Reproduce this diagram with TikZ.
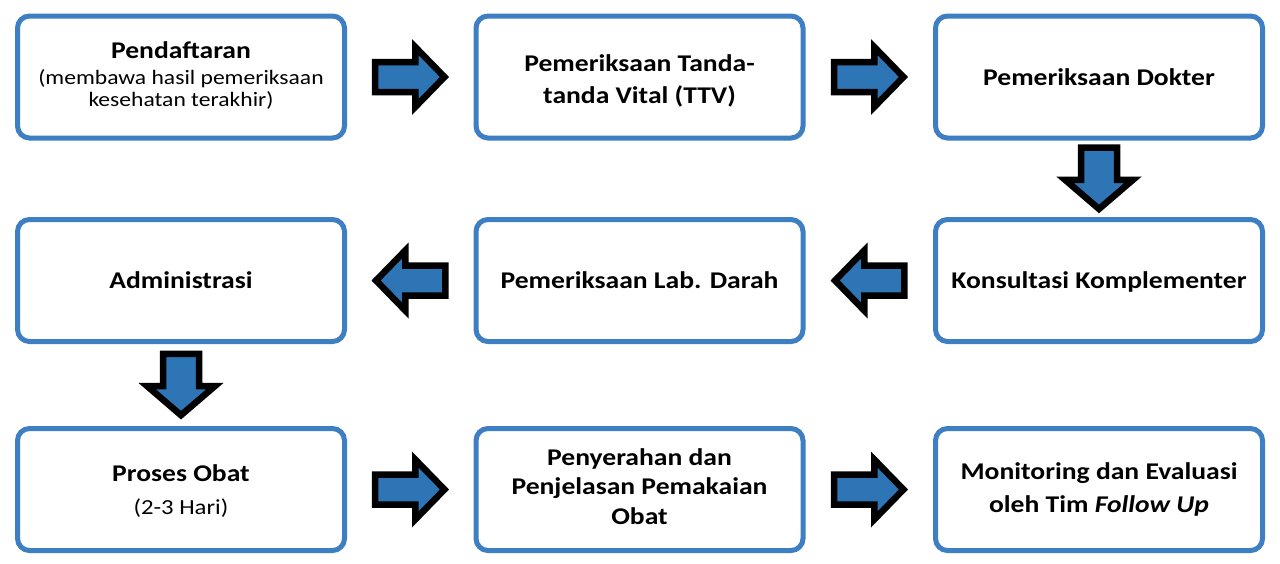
\documentclass[tikz,border=0pt]{standalone}
\usepackage{fontspec}
\setmainfont{Carlito}[FakeStretch=1.15]
\usetikzlibrary{calc}
\definecolor{boxblue}{RGB}{62,126,194}
\definecolor{arrowblue}{RGB}{46,117,182}
\tikzset{
  stepbox/.style={draw=boxblue, line width=5pt, rounded corners=12pt, fill=white,
    minimum width=327pt, minimum height=122pt, inner sep=0pt},
  bline/.style={anchor=base, inner sep=0pt, font=\fontsize{24}{24}\selectfont\bfseries},
  rline/.style={anchor=base, inner sep=0pt, font=\fontsize{20.5}{20.5}\selectfont},
  blockarrow/.style={draw=black, line width=6.5pt, fill=arrowblue, line join=miter},
}
\newcommand{\hshape}{(-35.2,-15) -- (5,-15) -- (5,-30) -- (34.2,0) -- (5,30) -- (5,15) -- (-35.2,15) -- cycle}
\newcommand{\vshape}{(-31.2,-18) -- (1,-18) -- (1,-34) -- (30.2,0) -- (1,34) -- (1,18) -- (-31.2,18) -- cycle}
\begin{document}
\begin{tikzpicture}[x=1pt,y=-1pt]
\useasboundingbox[fill=white] (0,0) rectangle (1280,563);
% boxes
\node[stepbox] (b1) at (181,77) {};
\node[stepbox] (b2) at (639.5,77) {};
\node[stepbox] (b3) at (1099,77) {};
\node[stepbox] (b4) at (1099,280.5) {};
\node[stepbox] (b5) at (639.5,280.5) {};
\node[stepbox] (b6) at (181,280.5) {};
\node[stepbox] (b7) at (181,489.5) {};
\node[stepbox] (b8) at (639.5,489.5) {};
\node[stepbox] (b9) at (1099,489.5) {};
% texts
\node[bline] (t1a) at (181,58.5) {Pendaftaran};
\node[rline] (t1b) at (181,84) {(membawa hasil pemeriksaan};
\node[rline] (t1c) at (181,106) {kesehatan terakhir)};
\node[bline] (t2a) at (639.5,71.5) {Pemeriksaan Tanda-};
\node[bline] (t2b) at (639.5,103) {tanda Vital (TTV)};
\node[bline] (t3a) at (1099,85) {Pemeriksaan Dokter};
\node[bline] (t4a) at (1099,288.5) {Konsultasi Komplementer};
\node[bline] (t5a) at (639.5,288.5) {Pemeriksaan Lab. Darah};
\node[bline] (t6a) at (181,288.5) {Administrasi};
\node[bline] (t7a) at (181,481.5) {Proses Obat};
\node[rline, font=\fontsize{21.5}{21.5}\selectfont] (t7b) at (181,514) {(2-3 Hari)};
\node[bline] (t8a) at (639.5,465) {Penyerahan dan};
\node[bline] (t8b) at (639.5,494.5) {Penjelasan Pemakaian};
\node[bline] (t8c) at (639.5,524) {Obat};
\node[bline] (t9a) at (1099,479) {Monitoring dan Evaluasi};
\node[bline] (t9b) at (1099,512) {oleh Tim \textit{Follow Up}};
% arrow positions
\coordinate (m12) at ($(b1.east)!0.5!(b2.west)$);
\coordinate (m23) at ($(b2.east)!0.5!(b3.west)$);
\coordinate (m34) at ($(b3.south)!0.5!(b4.north)$);
\coordinate (m45) at ($(b4.west)!0.5!(b5.east)$);
\coordinate (m56) at ($(b5.west)!0.5!(b6.east)$);
\coordinate (m67) at ($(b6.south)!0.5!(b7.north)$);
\coordinate (m78) at ($(b7.east)!0.5!(b8.west)$);
\coordinate (m89) at ($(b8.east)!0.5!(b9.west)$);
% horizontal block arrows
\draw[blockarrow, shift={(m12)}] \hshape;
\draw[blockarrow, shift={(m23)}] \hshape;
\draw[blockarrow, shift={(m45)}, rotate=180] \hshape;
\draw[blockarrow, shift={(m56)}, rotate=180] \hshape;
\draw[blockarrow, shift={(m78)}] \hshape;
\draw[blockarrow, shift={(m89)}] \hshape;
% vertical block arrows
\draw[blockarrow, shift={(m34)}, rotate=-90] \vshape;
\draw[blockarrow, shift={(m67)}, rotate=-90] \vshape;
\end{tikzpicture}
\end{document}
